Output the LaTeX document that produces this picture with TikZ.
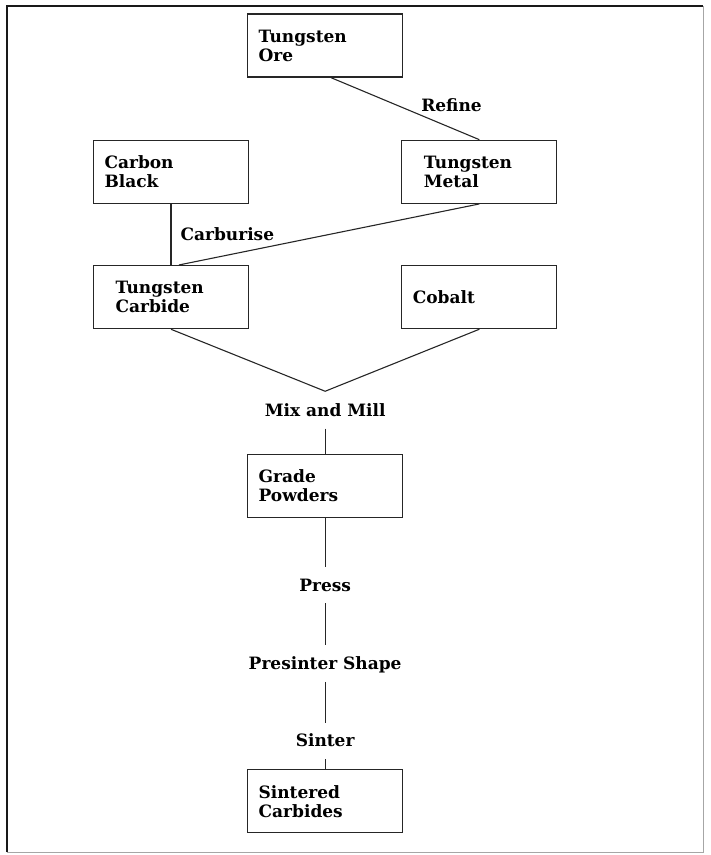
\documentclass[tikz,border=0pt]{standalone}
\usepackage{fontspec}
\setmainfont{DejaVu Serif}
\usetikzlibrary{positioning,calc}

\begin{document}
\begin{tikzpicture}[
    x=1pt, y=-1pt,
    font=\fontsize{17}{19}\selectfont\bfseries,
    box/.style={rectangle, draw=black!85, line width=1.3pt, text width=133pt, inner xsep=11pt, align=left, minimum width=155pt, minimum height=63pt},
    indented/.style={text width=111pt},
    stage/.style={inner xsep=2pt, inner ysep=12pt, text height=12pt, text depth=0pt},
    link/.style={draw=black!85, line width=1.1pt},
    tag/.style={inner sep=2pt}
]
\useasboundingbox (0,0) rectangle (711,855);

\node[box] (ore) at (325,45.5) {Tungsten\\Ore};
\node[box, indented, below right=62pt and -2pt of ore] (metal) {Tungsten\\Metal};
\node[box, left=152pt of metal] (black) {Carbon\\Black};
\node[box, indented, below=61pt of black] (carbide) {Tungsten\\Carbide};
\node[box, below=61pt of metal] (cobalt) {Cobalt};

\coordinate (mix) at ($(carbide.south)!.5!(cobalt.south)+(0,-62pt)$);
\node[stage, below=1pt of mix] (mixlbl) {Mix and Mill};
\node[box, below=25pt of mixlbl] (grade) {Grade\\Powders};
\node[stage, below=49pt of grade] (press) {Press};
\node[stage, below=42pt of press] (presinter) {Presinter Shape};
\node[stage, below=41pt of presinter] (sinter) {Sinter};
\node[box, below=10pt of sinter] (sintered) {Sintered\\Carbides};

\draw[link] ([xshift=6pt]ore.south) -- node[tag, pos=.45, right=21pt] {Refine} (metal.north);
\draw[link] (black) -- node[tag, pos=.5, right=7pt] {Carburise} (carbide);
\draw[link] (metal.south) -- ([xshift=8pt]carbide.north);
\draw[link] (carbide.south) -- (mix) -- (cobalt.south);
\draw[link] (mixlbl) -- (grade);
\draw[link] (grade) -- (press);
\draw[link] (press) -- (presinter);
\draw[link] (presinter) -- (sinter);
\draw[link] (sinter) -- (sintered);

\draw[line width=2.2pt, black!90] (7,852) -- (7,6) -- (703,6);
\draw[line width=1pt, black!35] (703,6) -- (703,852) -- (7,852);

\end{tikzpicture}
\end{document}
